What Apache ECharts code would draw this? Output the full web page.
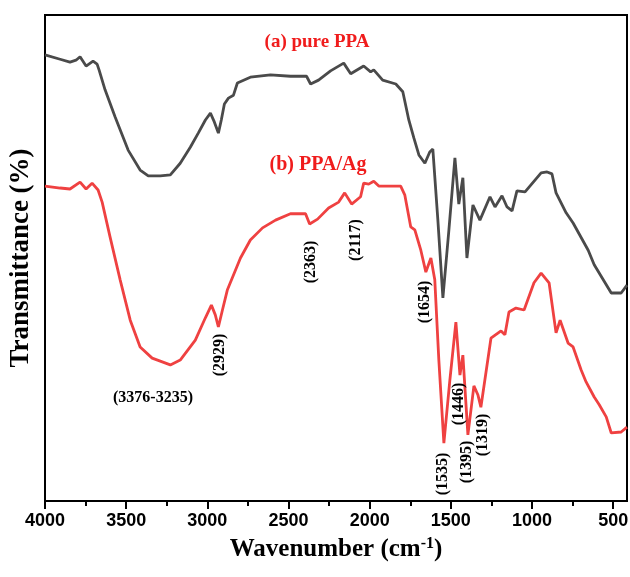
<!DOCTYPE html>
<html><head><meta charset="utf-8">
<script src="https://cdn.jsdelivr.net/npm/echarts@6/dist/echarts.min.js"></script>
<style>html,body{margin:0;padding:0;background:#fff}#c{width:630px;height:577px}</style>
</head><body><div id="c"></div>
<script>
// (a) pure PPA : wavenumber (cm-1) and transmittance (arb. %)
const wnPure = [4000,3907,3846,3809,3784,3747,3704,3679,3667,3630,3568,3488,3414,3364,3290,3228,3167,3105,3056,3012,2981,2957,2932,2914,2895,2870,2839,2815,2735,2611,2488,2389,2364,2315,2241,2160,2117,2037,1994,1975,1920,1839,1796,1759,1728,1697,1660,1630,1611,1580,1549,1512,1475,1451,1426,1401,1364,1321,1259,1228,1185,1154,1123,1093,1043,944,907,877,852,790,747,654,617,512,451,415];
const tPure  = [91.8,90.9,90.3,90.7,91.4,89.5,90.5,89.9,88.7,84.6,79.0,72.2,68.1,66.9,66.9,67.1,69.5,72.8,75.7,78.4,79.8,78.0,75.7,78.4,81.7,82.9,83.5,86.0,87.2,87.7,87.4,87.4,85.8,86.6,88.5,90.1,87.9,89.5,88.3,88.7,86.6,85.8,84.2,78.4,74.7,71.2,69.5,71.8,72.4,57.8,41.8,55.8,70.6,61.1,66.5,50.0,60.9,57.8,62.6,60.5,62.8,60.5,59.7,63.8,63.6,67.5,67.7,67.3,63.4,59.3,57.2,51.6,48.6,42.8,42.8,44.4];
// (b) PPA/Ag
const wnAg = [4000,3907,3846,3784,3747,3710,3673,3648,3599,3537,3475,3414,3340,3228,3167,3074,3012,2975,2951,2932,2907,2877,2839,2796,2735,2660,2580,2488,2395,2370,2321,2253,2191,2154,2111,2056,2037,2006,1975,1944,1870,1809,1784,1747,1722,1685,1654,1623,1599,1574,1543,1506,1469,1444,1426,1395,1358,1333,1315,1253,1191,1167,1142,1099,1049,988,944,895,852,827,778,747,698,667,617,586,543,512,451,415];
const tAg  = [64.8,64.4,64.2,65.6,64.2,65.4,64.0,61.5,54.3,45.5,37.2,31.7,29.4,28.0,29.0,33.1,37.7,40.3,38.3,35.8,39.3,43.4,46.5,50.0,53.7,56.2,57.8,59.1,59.1,57.0,58.0,60.3,61.5,63.4,61.1,62.6,65.4,65.2,65.8,64.8,64.8,64.8,63.0,56.4,55.8,51.6,47.1,50.0,45.5,29.0,11.9,24.9,36.8,25.9,30.0,13.6,23.7,21.8,19.3,33.5,35.0,34.2,38.9,39.7,39.3,44.9,46.9,44.9,34.6,37.2,32.5,31.7,27.0,24.5,21.4,19.8,17.3,14.0,14.2,15.2];
const tickLabels = [4000,3500,3000,2500,2000,1500,1000,500];
const minorTicks = [3750,3250,2750,2250,1750,1250,750];
const seriesNames = ['(a) pure PPA','(b) PPA/Ag'];
const peakLabels = ['(3376-3235)','(2929)','(2363)','(2117)','(1654)','(1535)','(1446)','(1395)','(1319)'];

const chart = echarts.init(document.getElementById('c'), null, {renderer:'canvas'});
const serif = '"Liberation Serif","Times New Roman",serif';
const ann = (text, x, y, rot) => ({
  type:'text', x:x, y:y, rotation: rot ? Math.PI/2 : 0, z:10,
  style:{text:text, fill:'#000', font:'bold 16px '+serif, textAlign:'center', textVerticalAlign:'middle', align:'center', verticalAlign:'middle'}
});
const option = {
  animation:false,
  backgroundColor:'#fff',
  grid:{left:45, right:3, top:15, bottom:76, containLabel:false, outerBoundsMode:'none', show:true, borderColor:'#000', borderWidth:2, backgroundColor:'transparent'},
  xAxis:[{
    type:'value', inverse:true, min:415, max:4000,
    name:'{a|Wavenumber (cm}{s|-1}{a|)}', nameLocation:'middle', nameGap:35,
    nameTextStyle:{rich:{a:{fontFamily:serif, fontWeight:'bold', fontSize:25, color:'#000'}, s:{fontFamily:serif, fontWeight:'bold', fontSize:16, color:'#000', verticalAlign:'top', padding:[0,0,12,0]}}},
    axisLine:{show:true, onZero:false, lineStyle:{color:'#000', width:2}},
    axisTick:{show:true, length:8, lineStyle:{color:'#000', width:2}, customValues:tickLabels},
    axisLabel:{show:true, customValues:tickLabels, formatter:(v)=>String(v), color:'#000', fontFamily:'"Liberation Sans",Arial,sans-serif', fontWeight:'bold', fontSize:18, margin:11},
    splitLine:{show:false}
  },{
    type:'value', inverse:true, min:415, max:4000, position:'bottom',
    axisLine:{show:false},
    axisTick:{show:true, length:5, lineStyle:{color:'#000', width:2}, customValues:minorTicks},
    axisLabel:{show:false}, splitLine:{show:false}
  }],
  yAxis:{
    type:'value', min:0, max:100,
    name:'Transmittance (%)', nameLocation:'middle', nameGap:10,
    nameTextStyle:{fontFamily:serif, fontWeight:'bold', fontSize:27, color:'#000'},
    axisLine:{show:true, lineStyle:{color:'#000', width:2}},
    axisTick:{show:false}, axisLabel:{show:false}, splitLine:{show:false}
  },
  series:[
    {name:seriesNames[0], type:'line', showSymbol:false, data:wnPure.map((w,i)=>[w,tPure[i]]), lineStyle:{color:'#4a4a4a', width:2.8}, itemStyle:{color:'#4a4a4a'}},
    {name:seriesNames[1], type:'line', showSymbol:false, data:wnAg.map((w,i)=>[w,tAg[i]]), lineStyle:{color:'#ef4141', width:2.8}, itemStyle:{color:'#ef4141'}}
  ],
  graphic:[
    {type:'text', x:317, y:42, z:10, style:{text:seriesNames[0], fill:'#f01c1c', font:'bold 19px '+serif, textAlign:'center', textVerticalAlign:'middle', align:'center', verticalAlign:'middle'}},
    {type:'text', x:318, y:165, z:10, style:{text:seriesNames[1], fill:'#f01c1c', font:'bold 20px '+serif, textAlign:'center', textVerticalAlign:'middle', align:'center', verticalAlign:'middle'}},
    ann(peakLabels[0], 153, 398, false),
    ann(peakLabels[1], 220, 355, true),
    ann(peakLabels[2], 311, 262, true),
    ann(peakLabels[3], 356, 240, true),
    ann(peakLabels[4], 425, 302, true),
    ann(peakLabels[5], 443, 474, true),
    ann(peakLabels[6], 459, 404, true),
    ann(peakLabels[7], 467, 462, true),
    ann(peakLabels[8], 483, 435, true)
  ]
};
chart.setOption(option);
</script></body></html>
